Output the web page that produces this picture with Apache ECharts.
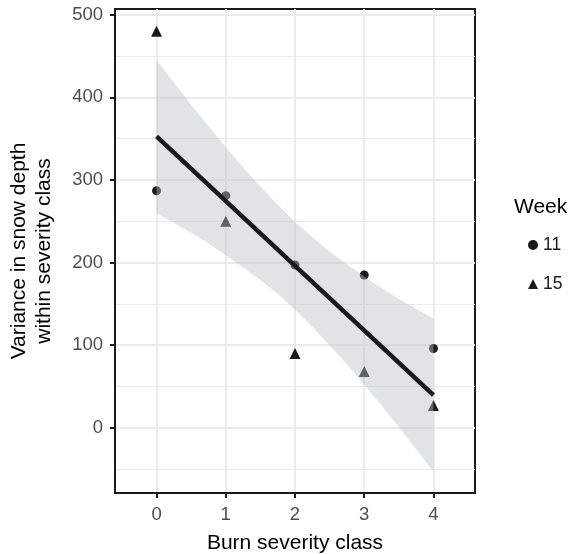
<!DOCTYPE html>
<html>
<head>
<meta charset="utf-8">
<script src="https://cdn.jsdelivr.net/npm/echarts@6/dist/echarts.min.js"></script>
<style>html,body{margin:0;padding:0;background:#fff}#c{width:571px;height:554px}</style>
</head>
<body>
<div id="c"></div>
<script>
// ---- data ----
var classes = [0, 1, 2, 3, 4];
var week11 = [287, 281, 197, 185, 96];
var week15 = [480, 250, 90, 68, 27];
var fitX = [0, 4];
var fitY = [352.7, 39.5];
var bandX = [0, 0.25, 0.5, 0.75, 1, 1.25, 1.5, 1.75, 2, 2.25, 2.5, 2.75, 3, 3.25, 3.5, 3.75, 4];
var bandUpper = [445, 418, 391, 365, 340, 315, 292, 270, 249, 231, 213, 198, 183, 169, 156, 144, 132];
var bandLower = [260, 248, 236, 223, 209, 194, 179, 162, 143, 122, 100, 77, 52, 27, 1, -26, -53];
var yTicks = [0, 100, 200, 300, 400, 500];
var yMinor = [-50, 50, 150, 250, 350, 450];
var xTicks = [0, 1, 2, 3, 4];

var FONT = 'Liberation Sans, Arial, Helvetica, sans-serif';
var chart = echarts.init(document.getElementById('c'), null, {renderer: 'canvas'});

function pairs(xs, ys) { return xs.map(function (x, i) { return [x, ys[i]]; }); }

var option = {
  backgroundColor: '#fff',
  animation: false,
  textStyle: {fontFamily: FONT},
  title: {
    text: 'Week', left: 514, top: 197, padding: 0,
    textStyle: {fontFamily: FONT, fontSize: 21, fontWeight: 'normal', color: '#000'}
  },
  legend: {
    orient: 'vertical', left: 528, top: 236, padding: 0,
    itemWidth: 10, itemHeight: 10, itemGap: 21, itemTextGap: 6,
    data: [{name: '11', icon: 'circle', itemStyle: {color: '#1a1a1a', opacity: 1}},
           {name: '15', icon: 'triangle', itemStyle: {color: '#1a1a1a', opacity: 1}}],
    textStyle: {fontFamily: FONT, fontSize: 17.5, color: '#1a1a1a'}
  },
  grid: {
    left: 115, right: 96, top: 9, bottom: 61,
    outerBoundsMode: 'none', containLabel: false,
    show: true, borderColor: '#1a1a1a', borderWidth: 2, backgroundColor: '#fff'
  },
  xAxis: {
    type: 'value', min: -0.6, max: 4.6,
    name: 'Burn severity class', nameLocation: 'middle', nameGap: 40,
    nameTextStyle: {fontFamily: FONT, fontSize: 21, color: '#000'},
    axisLine: {show: true, onZero: false, lineStyle: {color: '#1a1a1a', width: 2}},
    axisTick: {show: true, length: 5, customValues: xTicks, lineStyle: {color: '#1a1a1a', width: 2}},
    axisLabel: {customValues: xTicks, margin: 12, fontFamily: FONT, fontSize: 18.5, color: '#4d4d4d'},
    splitLine: {show: true, lineStyle: {color: '#ebebeb', width: 2}}
  },
  yAxis: [{
    type: 'value', min: -79, max: 507,
    name: 'Variance in snow depth\nwithin severity class', nameLocation: 'middle', nameGap: 58,
    nameRotate: 90,
    nameTextStyle: {fontFamily: FONT, fontSize: 21, color: '#000', lineHeight: 25, align: 'center'},
    axisLine: {show: true, onZero: false, lineStyle: {color: '#1a1a1a', width: 2}},
    axisTick: {show: true, length: 5, customValues: yTicks, lineStyle: {color: '#1a1a1a', width: 2}},
    axisLabel: {customValues: yTicks, margin: 12, fontFamily: FONT, fontSize: 18.5, color: '#4d4d4d'},
    splitLine: {show: true, lineStyle: {color: '#ebebeb', width: 2}}
  }, {
    type: 'value', min: -79, max: 507, position: 'left',
    axisLine: {show: false}, axisLabel: {show: false},
    axisTick: {show: false, customValues: yMinor},
    splitLine: {show: true, lineStyle: {color: '#ebebeb', width: 1.2}}
  }],
  series: [
    {
      name: '11', type: 'scatter', symbol: 'circle', symbolSize: 9, z: 2,
      itemStyle: {color: '#1a1a1a', opacity: 1},
      data: pairs(classes, week11)
    },
    {
      name: '15', type: 'scatter', symbol: 'triangle', symbolSize: 11, z: 2,
      itemStyle: {color: '#1a1a1a', opacity: 1},
      data: pairs(classes, week15)
    },
    {
      name: 'band', type: 'custom', z: 3, silent: true,
      data: [[0, 0]],
      renderItem: function (params, api) {
        var pts = [];
        for (var i = 0; i < bandX.length; i++) pts.push(api.coord([bandX[i], bandUpper[i]]));
        for (var j = bandX.length - 1; j >= 0; j--) pts.push(api.coord([bandX[j], bandLower[j]]));
        return {type: 'polygon', shape: {points: pts},
                style: {fill: 'rgba(190,192,195,0.44)', stroke: null}};
      }
    },
    {
      name: 'fit', type: 'line', z: 4, symbol: 'none', silent: true,
      lineStyle: {color: '#1a1a1a', width: 4.5, cap: 'butt'},
      data: pairs(fitX, fitY)
    }
  ]
};
chart.setOption(option);
</script>
</body>
</html>
